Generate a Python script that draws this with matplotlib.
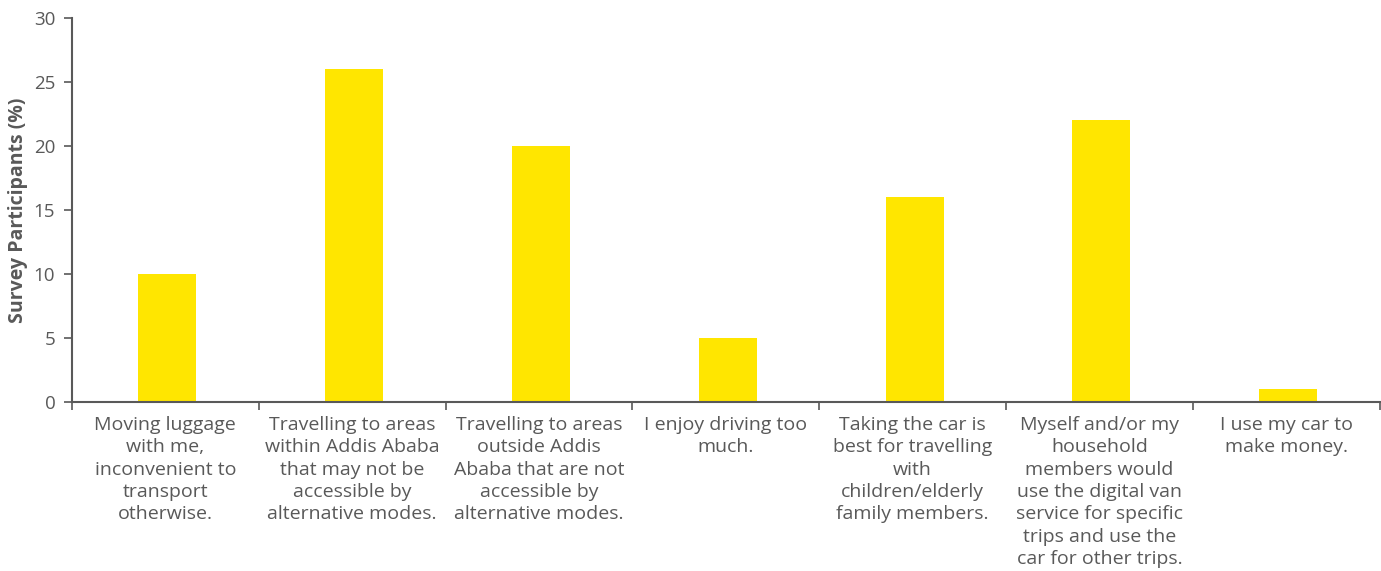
import matplotlib.pyplot as plt
import numpy as np

categories = [
    "Moving luggage\nwith me,\ninconvenient to\ntransport\notherwise.",
    "Travelling to areas\nwithin Addis Ababa\nthat may not be\naccessible by\nalternative modes.",
    "Travelling to areas\noutside Addis\nAbaba that are not\naccessible by\nalternative modes.",
    "I enjoy driving too\nmuch.",
    "Taking the car is\nbest for travelling\nwith\nchildren/elderly\nfamily members.",
    "Myself and/or my\nhousehold\nmembers would\nuse the digital van\nservice for specific\ntrips and use the\ncar for other trips.",
    "I use my car to\nmake money.",
]
values = [10, 26, 20, 5, 16, 22, 1]
y_ticks = [0, 5, 10, 15, 20, 25, 30]

BAR_COLOR = "#FFE600"
AXIS_COLOR = "#595959"
TEXT_COLOR = "#595959"

plt.rcParams["font.family"] = ["Open Sans", "DejaVu Sans"]

fig = plt.figure(figsize=(13.81, 5.71), dpi=100)
ax = fig.add_axes([0.0521, 0.296, 0.947, 0.6725])

x = np.arange(len(values))
ax.bar(x + 0.01, values, width=0.31, color=BAR_COLOR, zorder=2)

ax.set_xlim(-0.5, len(values) - 0.5)
ax.set_ylim(0, 30)
ax.set_yticks(y_ticks)

# category labels centred under bars, tick marks only on the boundaries
ax.set_xticks(x)
ax.set_xticklabels(categories, fontsize=14, color=TEXT_COLOR, linespacing=1.31)
ax.tick_params(axis="x", which="major", length=0, pad=10)
ax.set_xticks(np.arange(len(values) + 1) - 0.5, minor=True)
ax.tick_params(axis="x", which="minor", length=6, width=1.2, color=AXIS_COLOR, direction="out")

ax.tick_params(axis="y", length=6, width=1.2, color=AXIS_COLOR, labelsize=13.5,
               labelcolor=TEXT_COLOR, pad=6)

for side in ["top", "right"]:
    ax.spines[side].set_visible(False)
for side in ["left", "bottom"]:
    ax.spines[side].set_color(AXIS_COLOR)
    ax.spines[side].set_linewidth(1.5)

ax.set_ylabel("Survey Participants (%)", fontsize=14, fontweight="bold",
              color=TEXT_COLOR, labelpad=4)

fig.savefig("out.png", dpi=100)
